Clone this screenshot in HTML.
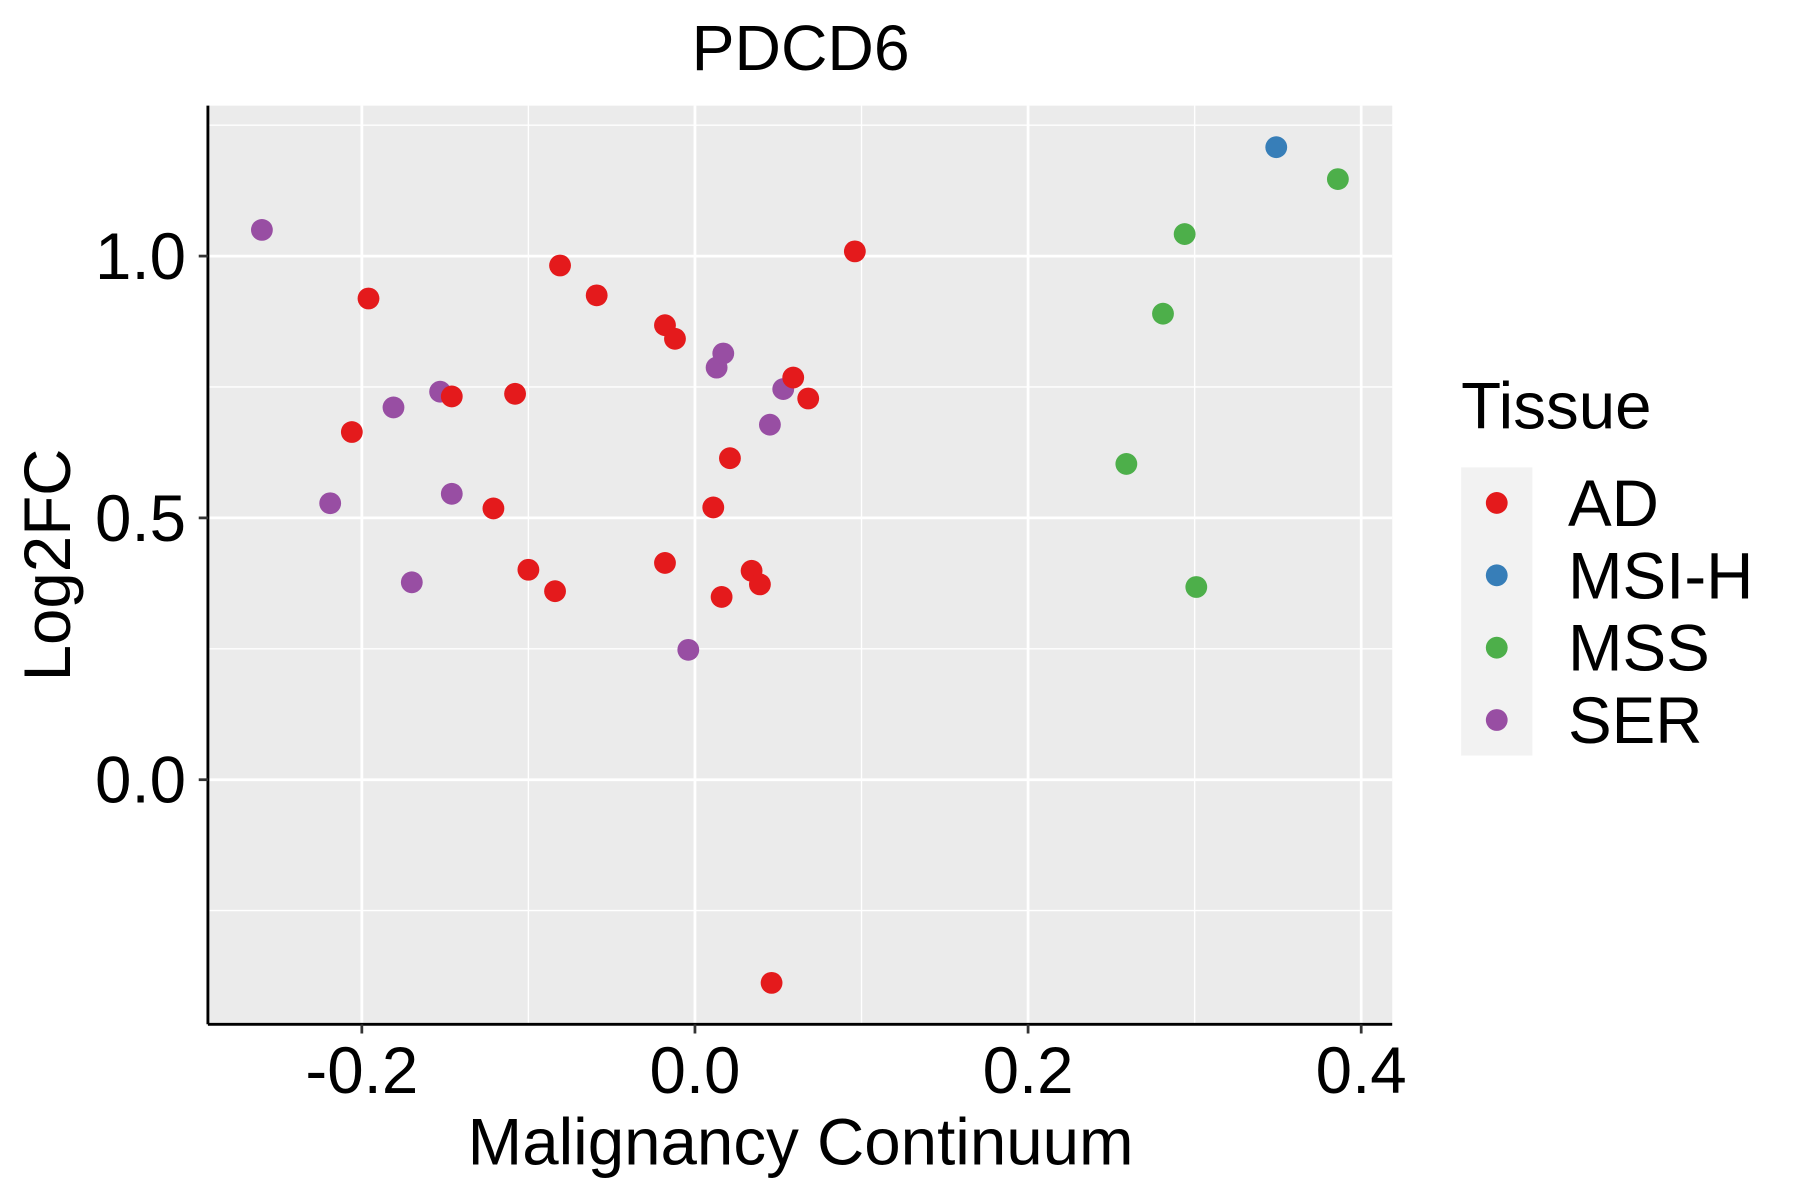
<!DOCTYPE html>
<html><head><meta charset="utf-8"><style>
html,body{margin:0;padding:0;background:#fff;}
svg{display:block;font-family:"Liberation Sans",sans-serif;}
</style></head><body>
<svg id="chart" width="1800" height="1200" viewBox="0 0 1567 1045" preserveAspectRatio="none" xmlns="http://www.w3.org/2000/svg">
<rect x="181" y="92" width="1031" height="800" fill="#ebebeb"/>
<g id="grid"></g>
<g id="points"></g>
<line x1="181" y1="92" x2="181" y2="892" stroke="#000" stroke-width="2.5"/>
<line x1="181" y1="892" x2="1212" y2="892" stroke="#000" stroke-width="2.5"/>
<g id="ticks"></g>
<text x="697" y="61" font-size="56" text-anchor="middle">PDCD6</text>
<text x="697" y="1014" font-size="57" text-anchor="middle">Malignancy Continuum</text>
<text transform="translate(61,492) rotate(-90)" font-size="57" text-anchor="middle">Log2FC</text>
<g>
<text x="1272" y="373" font-size="57">Tissue</text>
<rect x="1272" y="407" width="62" height="251" fill="#f2f2f2"/>
<g id="legend-items"></g>
</g>
</svg>
<script>
const xTicks = [-0.2, 0.0, 0.2, 0.4];
const xTickLabels = ["-0.2", "0.0", "0.2", "0.4"];
const yTicks = [0.0, 0.5, 1.0];
const yTickLabels = ["0.0", "0.5", "1.0"];
const xMinor = [-0.1, 0.1, 0.3];
const yMinor = [-0.25, 0.25, 0.75, 1.25];
const tissues = ["AD", "MSI-H", "MSS", "SER"];
const colors = ["#E41A1C", "#377EB8", "#4DAF4A", "#984EA3"];
const serX = [-0.260, -0.219, -0.181, -0.170, -0.153, -0.146, -0.004, 0.013, 0.017, 0.045, 0.053];
const serY = [1.050, 0.528, 0.711, 0.377, 0.741, 0.546, 0.248, 0.787, 0.814, 0.678, 0.746];
const adX = [-0.206, -0.196, -0.146, -0.121, -0.108, -0.100, -0.084, -0.081, -0.059, -0.018, -0.012, -0.018, 0.011, 0.016, 0.021, 0.034, 0.039, 0.046, 0.059, 0.068, 0.096];
const adY = [0.664, 0.919, 0.732, 0.518, 0.737, 0.401, 0.360, 0.982, 0.925, 0.868, 0.842, 0.414, 0.520, 0.349, 0.614, 0.399, 0.373, -0.388, 0.768, 0.728, 1.009];
const msihX = [0.349];
const msihY = [1.208];
const mssX = [0.386, 0.294, 0.281, 0.259, 0.301];
const mssY = [1.147, 1.042, 0.890, 0.603, 0.368];

const NS = "http://www.w3.org/2000/svg";
function sx(v){ return 605 + v * 1450; }
function sy(v){ return 679 - v * 456; }
function mk(tag, attrs, parent){
  const e = document.createElementNS(NS, tag);
  for (const k in attrs) e.setAttribute(k, attrs[k]);
  parent.appendChild(e); return e;
}
const grid = document.getElementById('grid');
xMinor.forEach(v => { const l = mk('line', {x1: sx(v), x2: sx(v), y1: 92, y2: 892, stroke: '#fff', 'stroke-width': 1.2}, grid);
  
   });
yMinor.forEach(v => { const l = mk('line', {x1: 181, x2: 1212, y1: sy(v), y2: sy(v), stroke: '#fff', 'stroke-width': 1.2}, grid);
  
   });
xTicks.forEach(v => { const l = mk('line', {x1: sx(v), x2: sx(v), y1: 92, y2: 892, stroke: '#fff', 'stroke-width': 2.4}, grid);
  
   });
yTicks.forEach(v => { const l = mk('line', {x1: 181, x2: 1212, y1: sy(v), y2: sy(v), stroke: '#fff', 'stroke-width': 2.4}, grid);
  
   });
const ticks = document.getElementById('ticks');
xTicks.forEach((v, i) => {
  const l = mk('line', {x1: sx(v), x2: sx(v), y1: 892, y2: 900, stroke: '#333', 'stroke-width': 2.4}, ticks);
  
  
  const t = mk('text', {x: sx(v), y: 952, 'font-size': 57, 'text-anchor': 'middle', fill: '#000'}, ticks);
  t.textContent = xTickLabels[i];
  
  
});
yTicks.forEach((v, i) => {
  const l = mk('line', {x1: 173, x2: 181, y1: sy(v), y2: sy(v), stroke: '#333', 'stroke-width': 2.4}, ticks);
  
  
  const t = mk('text', {x: 162, y: sy(v) + 20, 'font-size': 57, 'text-anchor': 'end', fill: '#000'}, ticks);
  t.textContent = yTickLabels[i];
  
  
});
const pts = document.getElementById('points');
const series = [[adX, adY, 0], [msihX, msihY, 1], [mssX, mssY, 2], [serX, serY, 3]];
const drawOrder = [3, 0, 1, 2];
drawOrder.forEach(si => {
  const s = series.find(q => q[2] === si);
  s[0].forEach((xv, i) => {
    const c = mk('circle', {cx: sx(xv), cy: sy(s[1][i]), r: 9.5, fill: colors[si]}, pts);
    
    
  });
});
const li = document.getElementById('legend-items');
tissues.forEach((t, i) => {
  const y = 438 + i * 63;
  const c = mk('circle', {cx: 1303, cy: y, r: 9.5, fill: colors[i]}, li);
  
  
  const tx = mk('text', {x: 1365, y: y + 20, 'font-size': 57}, li);
  tx.textContent = t;
  
  
});
</script>
</body></html>
